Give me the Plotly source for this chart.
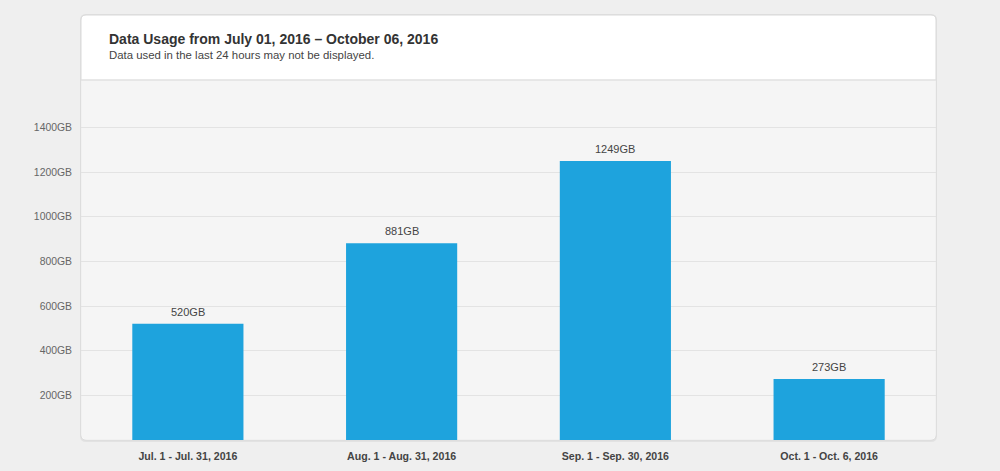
import plotly.graph_objects as go

periods = ["Jul. 1 - Jul. 31, 2016", "Aug. 1 - Aug. 31, 2016",
           "Sep. 1 - Sep. 30, 2016", "Oct. 1 - Oct. 6, 2016"]
usage_gb = [520, 881, 1249, 273]
y_ticks = [200, 400, 600, 800, 1000, 1200, 1400]

W, H = 1000, 471
L, R, T, B = 81, 936, 80, 440     # plot area in pixels
CARD_TOP = 15
RAD = 5
FONT = "Liberation Sans, Arial, sans-serif"


def px(x):
    return (x - L) / (R - L)


def py(y):
    return (B - y) / (B - T)


def rounded(x0, y0, x1, y1, r, top=True):
    # rounded rectangle, pixel coords -> paper coords
    tr = r if top else 0
    p = f"M {px(x0 + tr)},{py(y0)} L {px(x1 - tr)},{py(y0)} "
    if tr:
        p += f"Q {px(x1)},{py(y0)} {px(x1)},{py(y0 + tr)} "
    p += f"L {px(x1)},{py(y1 - r)} "
    p += f"Q {px(x1)},{py(y1)} {px(x1 - r)},{py(y1)} "
    p += f"L {px(x0 + r)},{py(y1)} "
    p += f"Q {px(x0)},{py(y1)} {px(x0)},{py(y1 - r)} "
    p += f"L {px(x0)},{py(y0 + tr)} "
    if tr:
        p += f"Q {px(x0)},{py(y0)} {px(x0 + tr)},{py(y0)} "
    return p + "Z"


fig = go.Figure(go.Bar(
    x=periods,
    y=usage_gb,
    marker=dict(color="#1ea3dd", line=dict(width=0)),
    hoverinfo="skip",
))

shapes = [
    # soft shadow
    dict(type="path", xref="paper", yref="paper", layer="below",
         path=rounded(L - 1, CARD_TOP - 1, R + 1, B + 2, RAD + 1),
         fillcolor="#e2e2e2", line=dict(width=0)),
    # card
    dict(type="path", xref="paper", yref="paper", layer="below",
         path=rounded(L, CARD_TOP, R, B, RAD),
         fillcolor="#ffffff", line=dict(color="#d9d9d9", width=1)),
    # plot body
    dict(type="path", xref="paper", yref="paper", layer="below",
         path=rounded(L + 0.5, T, R - 0.5, B - 0.5, RAD, top=False),
         fillcolor="#f5f5f5", line=dict(width=0)),
    # header divider
    dict(type="line", xref="paper", yref="paper", layer="below",
         x0=0, x1=1, y0=1, y1=1, line=dict(color="#e0e0e0", width=1.5)),
]

annotations = [
    dict(text="<b>Data Usage from July 01, 2016 – October 06, 2016</b>",
         xref="paper", yref="paper", x=px(107), y=py(39),
         xanchor="left", yanchor="middle", showarrow=False,
         font=dict(size=14, color="#333333")),
    dict(text="Data used in the last 24 hours may not be displayed.",
         xref="paper", yref="paper", x=px(107), y=py(55),
         xanchor="left", yanchor="middle", showarrow=False,
         font=dict(size=11.4, color="#444444")),
]
# value labels above the bars
for p, v in zip(periods, usage_gb):
    annotations.append(dict(
        text=f"{v}GB", x=p, y=v, xref="x", yref="y",
        yanchor="bottom", yshift=4, showarrow=False,
        font=dict(size=11, color="#444444"),
    ))

fig.update_layout(
    width=W, height=H,
    margin=dict(l=L, r=W - R, t=T, b=H - B, pad=0),
    paper_bgcolor="#efefef",
    plot_bgcolor="rgba(0,0,0,0)",
    font=dict(family=FONT, color="#444444"),
    showlegend=False,
    bargap=0.48,
    shapes=shapes,
    annotations=annotations,
)

fig.update_xaxes(
    automargin=False,
    showgrid=False, showline=False, zeroline=False, ticks="",
    ticklabelstandoff=8,
    tickfont=dict(size=10.6, color="#444444", family=FONT, weight="bold"),
)
fig.update_yaxes(
    automargin=False,
    range=[0, 1612],
    tickvals=y_ticks,
    ticktext=[f"{v}GB" for v in y_ticks],
    showgrid=True, gridcolor="#e3e3e3", gridwidth=1,
    zeroline=False, showline=False, ticks="",
    ticklabelstandoff=8,
    tickfont=dict(size=10.4, color="#666666"),
)

fig.write_html("out.html", config={"displayModeBar": False},
               post_script="document.body.style.margin='0';")
